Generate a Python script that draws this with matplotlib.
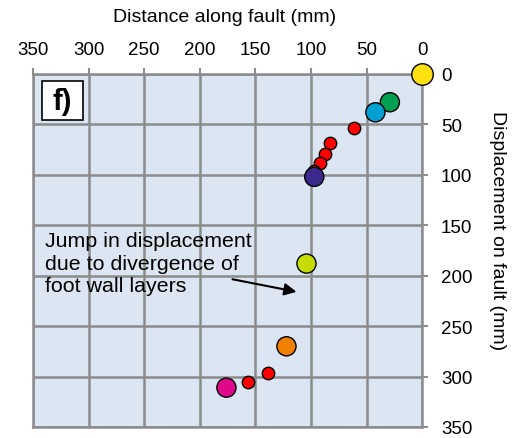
import matplotlib
matplotlib.use("Agg")
from matplotlib import pyplot as plt
from matplotlib.patches import Rectangle

plt.rcParams["font.family"] = ["Liberation Sans", "DejaVu Sans"]

# big coloured markers (marker beds)
big_x = [29, 42, 97, 104, 122, 176]
big_y = [28, 38, 102, 188, 270, 311]
big_colors = ["#00a050", "#00a0d2", "#3a2a8c", "#c6dc00", "#f08000", "#e0088a"]

# yellow origin point
origin_x = [0]
origin_y = [0]

# small red points
red_x = [61, 83, 87, 91.5, 97, 139, 156.5]
red_y = [54, 68, 79, 88, 96, 296, 305]

ticks = [0, 50, 100, 150, 200, 250, 300, 350]
grid_col = "#8c8c8c"

fig = plt.figure(figsize=(5.14, 4.39), dpi=100)
ax = fig.add_axes([0.0642, 0.0251, 0.757, 0.8041])
ax.set_facecolor("#dce6f2")

ax.set_xlim(350, 0)
ax.set_ylim(350, 0)
ax.set_xticks(ticks)
ax.set_yticks(ticks)
ax.grid(True, color=grid_col, lw=1.8, zorder=1)
ax.set_axisbelow(True)
for s in ax.spines.values():
    s.set_color(grid_col)
    s.set_linewidth(1.8)

ax.xaxis.tick_top()
ax.yaxis.tick_right()
ax.tick_params(axis="both", colors=grid_col, width=1.5, length=4.5,
               labelcolor="black", labelsize=13.5)
ax.tick_params(axis="x", pad=7)
ax.tick_params(axis="y", pad=9)

ax.scatter(red_x, red_y, s=80, c="#ff0000", edgecolors="black",
           linewidths=1.0, zorder=3, clip_on=False)
ax.scatter(big_x, big_y, s=190, c=big_colors, edgecolors="black",
           linewidths=1.0, zorder=4, clip_on=False)
ax.scatter(origin_x, origin_y, s=240, c="#ffe010", edgecolors="black",
           linewidths=1.0, zorder=4, clip_on=False)

fig.text(0.437, 0.959, "Distance along fault (mm)", ha="center", va="center",
         fontsize=14)
fig.text(0.968, 0.475, "Displacement on fault (mm)", ha="center", va="center",
         rotation=-90, fontsize=14)

# panel label box (x axis is inverted, so anchor on the right edge)
ax.add_patch(Rectangle((305, 6.5), 36.7, 39.5, fc="white", ec="black",
                       lw=1.2, zorder=5))
ax.text(323.3, 27, "f)", fontsize=21, fontweight="bold", ha="center",
        va="center", zorder=6)

ax.text(339, 156, "Jump in displacement\ndue to divergence of\nfoot wall layers",
        fontsize=15.4, ha="left", va="top", linespacing=1.22, zorder=5)
ax.annotate("", xy=(110.5, 216.5), xytext=(173, 203),
            arrowprops=dict(arrowstyle="-|>", color="black", lw=1.5,
                            mutation_scale=18), zorder=5)

fig.savefig("out.png", dpi=100)
